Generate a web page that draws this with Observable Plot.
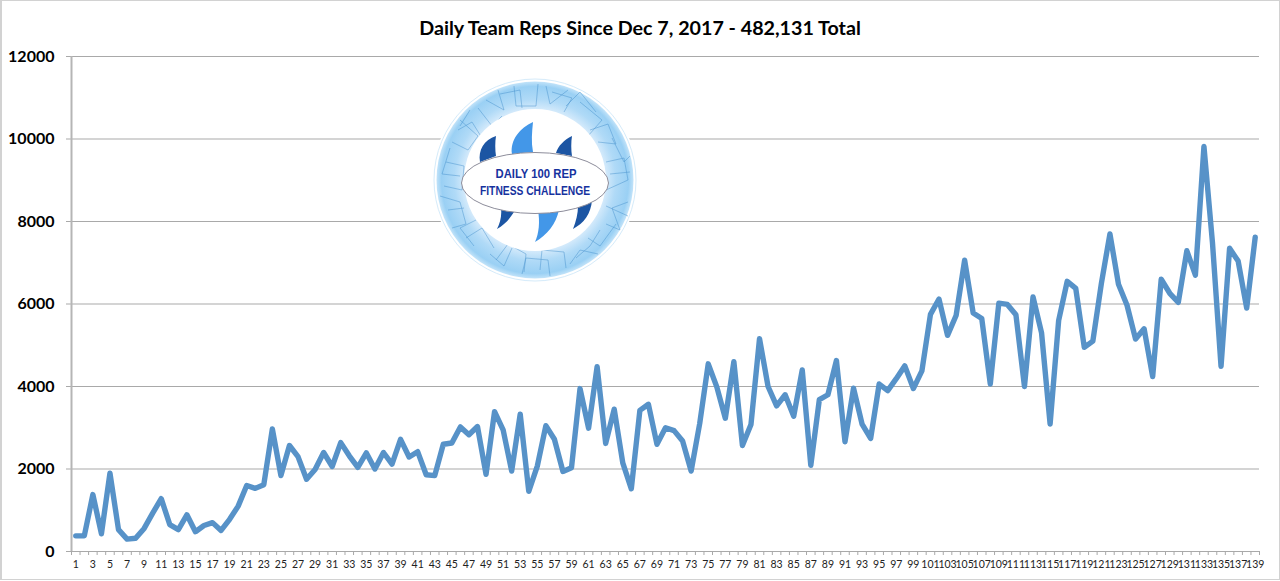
<!DOCTYPE html>
<html><head><meta charset="utf-8">
<script src="https://cdn.jsdelivr.net/npm/d3@7"></script>
<script src="https://cdn.jsdelivr.net/npm/@observablehq/plot@0.6"></script>
<style>
html,body{margin:0;padding:0;background:#fff;overflow:hidden}
#wrap{position:relative;width:1280px;height:581px;overflow:hidden}
#title{height:42px;text-align:center;font:700 19.7px/55px Lato,sans-serif;color:#000;position:relative;z-index:2}
#edge{position:absolute;left:0;top:0;width:1280px;height:580px;border:1px solid #d2d2d2;border-left-width:2px;pointer-events:none;box-sizing:border-box}
#logo{position:absolute;left:430px;top:78px;width:210px;height:204px;z-index:3}
</style></head><body>
<div id="wrap"><div id="title">Daily Team Reps Since Dec 7, 2017 - 482,131 Total</div><div id="chart"></div><div id="edge"></div><div id="logo"></div></div>
<script>
const reps = [380,380,1380,430,1900,530,300,320,560,930,1280,650,530,890,480,630,700,510,780,1100,
1600,1530,1620,2970,1840,2570,2300,1750,1990,2400,2060,2640,2320,2040,2390,2000,2400,2120,2720,2290,
2420,1860,1840,2600,2630,3020,2830,3030,1870,3390,2950,1950,3330,1460,2070,3050,2720,1940,2030,3950,
2990,4480,2620,3450,2150,1520,3420,3570,2600,3000,2930,2680,1950,3100,4550,3990,3230,4600,2570,3080,
5160,4000,3530,3800,3280,4400,2090,3680,3800,4630,2660,3960,3090,2740,4060,3900,4190,4500,3950,4380,
5750,6120,5240,5720,7060,5780,5650,4060,6020,5990,5740,4000,6170,5300,3090,5600,6550,6380,4950,5100,
6500,7700,6480,5970,5150,5400,4240,6600,6260,6040,7290,6700,9820,7480,4490,7350,7040,5900,7620];
const days = reps.map((_, i) => i + 1);
const yTicks = [0,2000,4000,6000,8000,10000,12000];
const xLabels = days.filter(d => d % 2 === 1);
const xBoundaries = [...days.map(d => d - 0.5), 139.5];
const rows = days.map((d, i) => ({day: d, reps: reps[i]}));

const chart = Plot.plot({
  width: 1280, height: 539,
  marginTop: 14, marginBottom: 30, marginLeft: 71, marginRight: 21,
  style: {background: "transparent", overflow: "visible"},
  x: {domain: [0.5, 139.5], axis: null},
  y: {domain: [0, 12000], axis: null},
  marks: [
    Plot.ruleY(yTicks, {stroke: "#a9a9a9", strokeWidth: 1.2}),
    Plot.axisY({ticks: yTicks, tickFormat: d => String(d), tickSize: 5, tickPadding: 12, stroke: "#a9a9a9",
      fontSize: 16, fontWeight: 700, fontFamily: "Lato,sans-serif", fill: "#000", label: null}),
    Plot.ruleX([0.5], {stroke: "#b5b5b5", strokeWidth: 2}),
    Plot.axisX({ticks: xBoundaries, tickFormat: () => "", tickSize: 4, stroke: "#a9a9a9", label: null}),
    Plot.axisX({ticks: xLabels, tickFormat: d => String(d), tickSize: 0, tickPadding: 9,
      fontSize: 10.5, fontFamily: "Lato,sans-serif", fill: "#222", label: null}),
    Plot.line(rows, {x: "day", y: "reps", stroke: "#5792c8", strokeWidth: 5.4, strokeLinejoin: "round", curve: "linear"})
  ]
});
document.getElementById("chart").appendChild(chart);

// decorative badge: ring, fins, ellipse and its two lines of real text
const ringLines = [
 "M30 42 L48 58 L38 72 L22 64","M48 30 L62 48 L72 38","M16 84 L34 88 L32 112 L14 108","M10 118 L30 124 L36 146 L22 150",
 "M36 160 L52 150 L64 170","M66 182 L78 166 L96 176 L94 194","M110 192 L112 172 L134 174 L136 190","M146 180 L160 168 L170 152",
 "M176 146 L190 152 L182 130 L198 124","M176 112 L198 102 L194 80 L176 84","M168 64 L186 66 L178 46 L160 52","M136 28 L150 14 L166 34",
 "M84 8 L86 28 L106 28 L108 6","M116 8 L120 26 L138 12","M56 22 L74 32 L68 12",
 "M20 70 L12 96 L30 98","M28 52 L42 44 L52 60","M40 32 L30 48","M70 16 L90 12 L92 30","M122 14 L142 20 L134 34",
 "M150 24 L172 42 L158 58","M182 60 L194 84 L200 78","M180 96 L200 94","M176 128 L198 138","M186 146 L170 168 L158 160",
 "M140 186 L150 172 L168 176","M92 196 L96 180 L118 182 L120 198","M60 176 L74 188 L82 170","M44 168 L30 150 L46 142","M18 132 L34 130"];
const logo = `<svg viewBox="0 0 210 204" width="210" height="204" xmlns="http://www.w3.org/2000/svg">
<defs><radialGradient id="rg" cx="50%" cy="50%" r="50%"><stop offset="72%" stop-color="#d4eafb"/><stop offset="82%" stop-color="#b0daf7"/><stop offset="95%" stop-color="#9ad0f4"/><stop offset="100%" stop-color="#c2e3f9"/></radialGradient></defs>
<circle cx="105" cy="102" r="103" fill="#fff"/>
<circle cx="105" cy="102" r="101" fill="none" stroke="#d5ebfa" stroke-width="1"/>
<circle cx="105" cy="102" r="98.5" fill="url(#rg)"/>
<g fill="none" stroke="#3f8cc9" stroke-width=".55" opacity=".8">${ringLines.map(d => `<path d="${d}"/>`).join("")}</g>
<circle cx="105" cy="102" r="71" fill="#fff"/>
<path d="M66 58 C54 62 48 72 50 84 L66 78 C65 72 65 64 66 58Z" fill="#1c55a3"/>
<path d="M103 44 C90 50 80 62 82 76 L103 74 C101 64 102 54 103 44Z" fill="#4397e8"/>
<path d="M142 58 C134 62 128 68 126 75 L142 78 C141 72 141 64 142 58Z" fill="#1c55a3"/>
<path d="M71 130 L84 134 C79 142 74 147 67 151 C70 145 72 138 71 130Z" fill="#1c55a3"/>
<path d="M108 132 L129 132 C126 146 117 157 105 164 C109 155 110 144 108 132Z" fill="#4397e8"/>
<path d="M148 128 L162 122 C161 136 154 145 143 151 C146 143 148 136 148 128Z" fill="#1c55a3"/>
<ellipse cx="105" cy="105" rx="73.5" ry="30.5" fill="#fff" stroke="#8d8d9b" stroke-width="1"/>
<text x="106" y="100" textLength="81" lengthAdjust="spacingAndGlyphs" text-anchor="middle" font-family="'Liberation Sans',sans-serif" font-weight="700" font-size="13.5" fill="#16329e">DAILY 100 REP</text>
<text x="105" y="117" textLength="110" lengthAdjust="spacingAndGlyphs" text-anchor="middle" font-family="'Liberation Sans',sans-serif" font-weight="700" font-size="13.5" fill="#16329e">FITNESS CHALLENGE</text>
</svg>`;
document.getElementById("logo").innerHTML = logo;
</script></body></html>
